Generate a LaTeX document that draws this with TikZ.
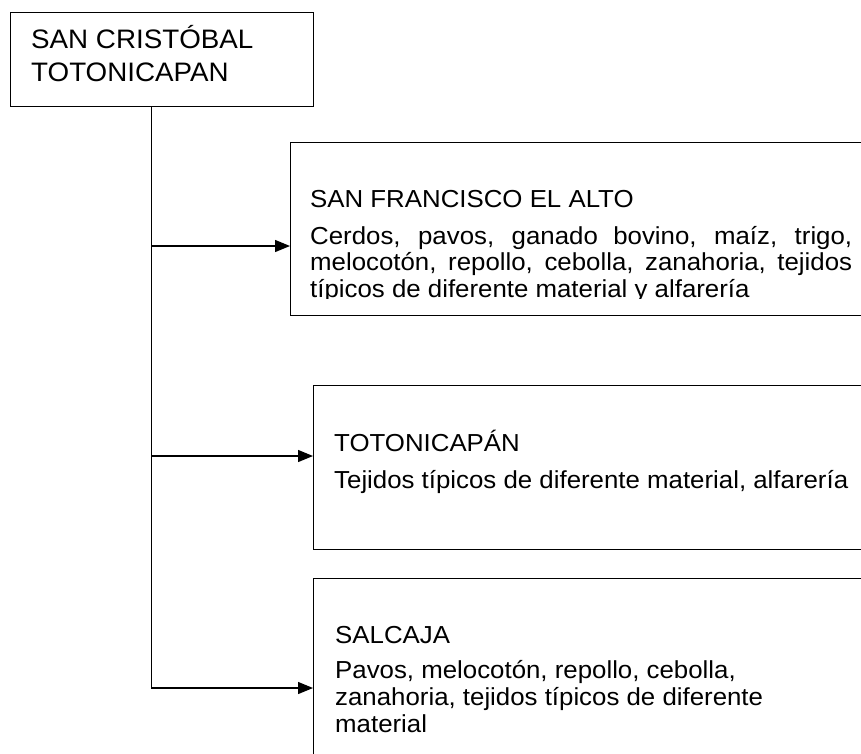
\documentclass[tikz,border=0pt]{standalone}
\usepackage{fontspec}
\setmainfont{Liberation Sans}
\newfontfamily\topfont[FakeStretch=1.04]{Liberation Sans}
\newfontfamily\bodyfont[FakeStretch=1.05]{Liberation Sans}
\usetikzlibrary{arrows.meta}
\begin{document}
\begin{tikzpicture}[x=1pt,y=-1pt,
  boxstyle/.style={draw=black, line width=1.3pt, fill=none, inner sep=0pt, anchor=north west},
  toptxt/.style={inner sep=0pt, anchor=base west, font=\topfont\fontsize{26.7}{33}\selectfont},
  txt/.style={inner sep=0pt, anchor=base west, font=\bodyfont\fontsize{24.6}{26.5}\selectfont},
  txtb/.style={inner sep=0pt, anchor=base west, font=\bodyfont\fontsize{24.6}{27}\selectfont},
  conn/.style={draw=black, line width=1.3pt},
  arr/.style={conn, -{Triangle[length=15pt,width=12pt]}}]
\useasboundingbox (0,0) rectangle (861,753);
\clip (0,0) rectangle (861,753);
% boxes
\node[boxstyle, minimum width=303pt, minimum height=94pt] (b1) at (10,12) {};
\node[boxstyle, minimum width=620pt, minimum height=173pt] (b2) at (290,142) {};
\node[boxstyle, minimum width=600pt, minimum height=164pt] (b3) at (313,385) {};
\node[boxstyle, minimum width=600pt, minimum height=250pt] (b4) at (313,578) {};
% texts
\node[toptxt] (t1) at (31,48) {\parbox[t]{280pt}{SAN CRISTÓBAL\\TOTONICAPAN}};
\node[txt] (h2) at (310,207) {SAN FRANCISCO EL ALTO};
\begin{scope}
\clip (290,142) rectangle (900,298);
\node[txt] (d2) at (310,244) {\parbox[t]{560pt}{\makebox[542pt][s]{Cerdos, pavos, ganado bovino, maíz, trigo,}\\\makebox[542pt][s]{melocotón, repollo, cebolla, zanahoria, tejidos}\\típicos de diferente material y alfarería}};
\end{scope}
\node[txt] (h3) at (334,451) {TOTONICAPÁN};
\node[txt] (d3) at (334,488) {Tejidos típicos de diferente material, alfarería};
\node[txtb] (h4) at (335,643) {SALCAJA};
\node[txtb] (d4) at (335,678) {\parbox[t]{520pt}{Pavos, melocotón, repollo, cebolla,\\zanahoria, tejidos típicos de diferente\\material}};
% connectors
\coordinate (t0) at ([xshift=-10.8pt]b1.south);
\coordinate (a1) at ([yshift=-104pt]b2.north west);
\coordinate (a2) at ([yshift=-71pt]b3.north west);
\coordinate (a3) at ([yshift=-110pt]b4.north west);
\draw[arr] (t0) |- (a3);
\draw[arr] (t0 |- a1) -- (a1);
\draw[arr] (t0 |- a2) -- (a2);
\end{tikzpicture}
\end{document}
